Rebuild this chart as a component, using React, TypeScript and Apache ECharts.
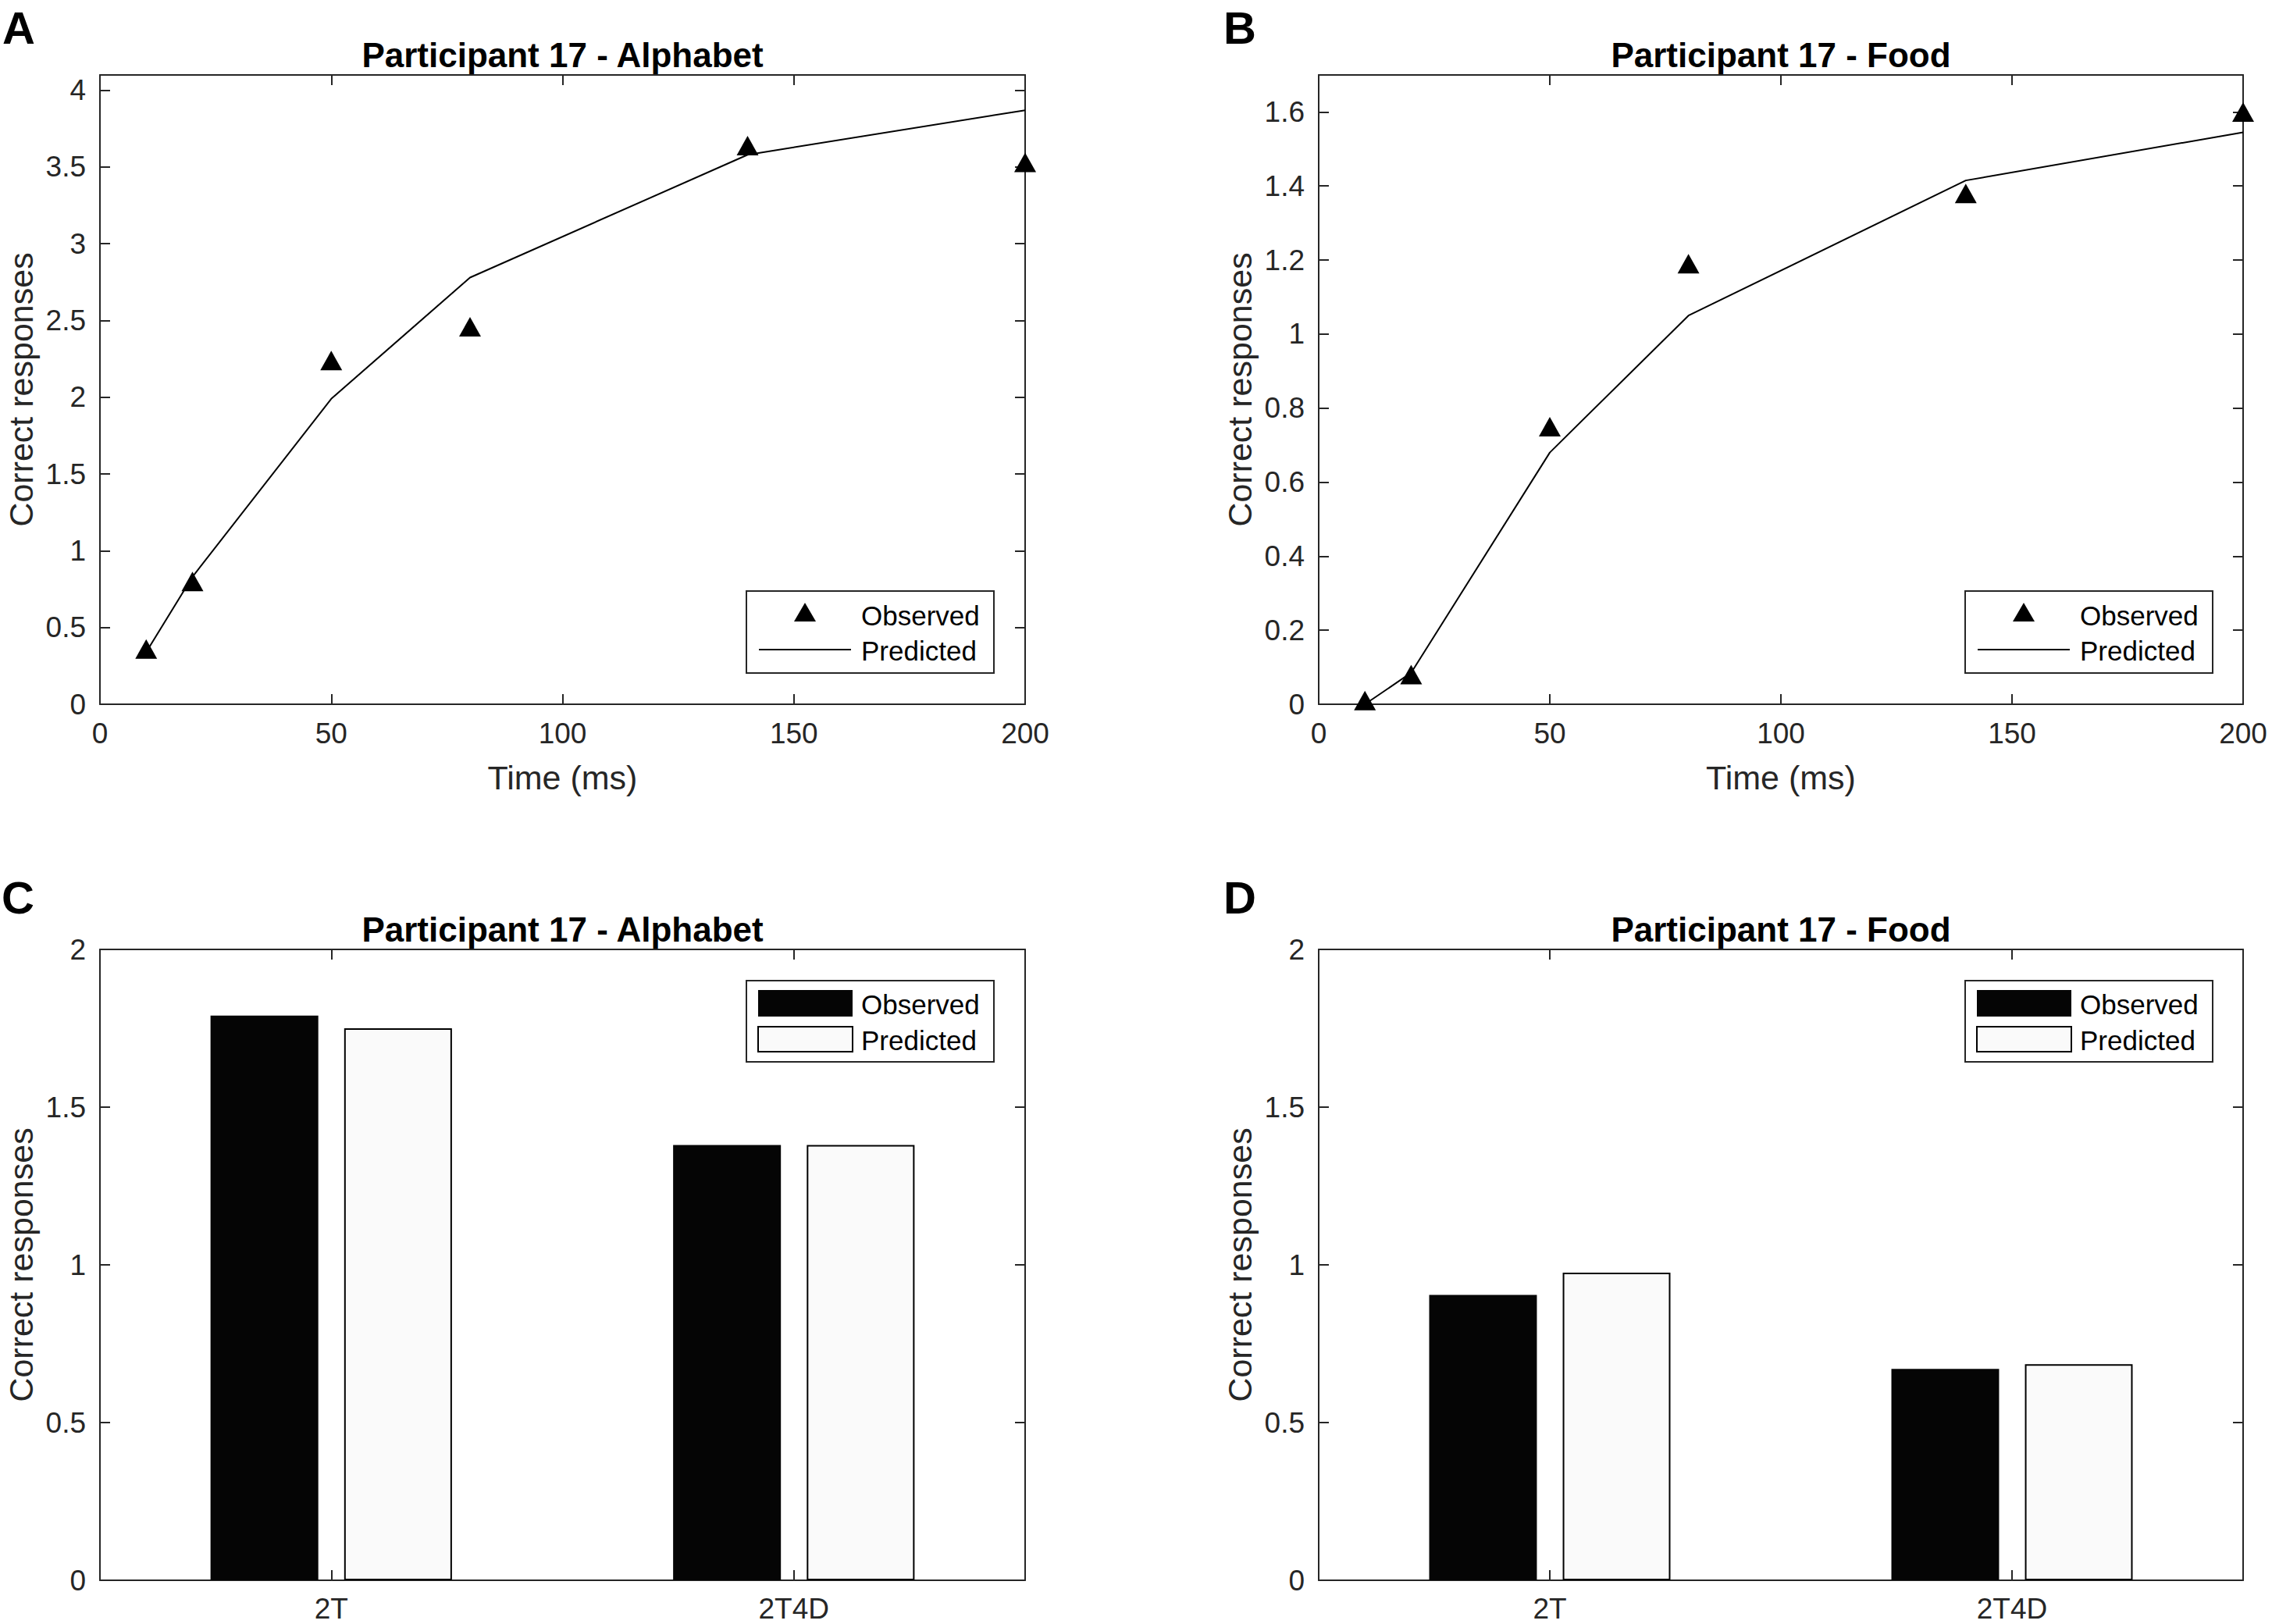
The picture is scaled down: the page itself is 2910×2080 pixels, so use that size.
import React, { useEffect, useRef } from "react";
import * as echarts from "echarts";

// ---------- data ----------
const timeMs = [10, 20, 50, 80, 140, 200];
const alphabetObserved = [0.36, 0.8, 2.24, 2.46, 3.64, 3.53];
const alphabetPredicted = [0.34, 0.83, 1.99, 2.78, 3.58, 3.87];
const foodObserved = [0.01, 0.08, 0.75, 1.19, 1.38, 1.6];
const foodPredicted = [0.0, 0.085, 0.68, 1.05, 1.415, 1.545];

const conditions = ["2T", "2T4D"];
const alphabetBarObserved = [1.79, 1.38];
const alphabetBarPredicted = [1.75, 1.38];
const foodBarObserved = [0.905, 0.67];
const foodBarPredicted = [0.975, 0.685];

const titles = [
  "Participant 17 - Alphabet",
  "Participant 17 - Food",
  "Participant 17 - Alphabet",
  "Participant 17 - Food",
];
const panelLetters = ["A", "B", "C", "D"];
const legendNames = ["Observed", "Predicted"];
const yAxisName = "Correct responses";
const xAxisName = "Time (ms)";
const timeRange = { min: 0, max: 200, interval: 50 };
const alphabetRange = { min: 0, max: 4.1, interval: 0.5 };
const foodRange = { min: 0, max: 1.7, interval: 0.2 };
const barRange = { min: 0, max: 2, interval: 0.5 };

// ---------- styling ----------
const FONT = "'Liberation Sans', Arial, Helvetica, sans-serif";
const AX = "#262626";
const grids = [
  { left: 128, top: 96, width: 1185, height: 806 },
  { left: 1689, top: 96, width: 1184, height: 806 },
  { left: 128, top: 1216, width: 1185, height: 808 },
  { left: 1689, top: 1216, width: 1184, height: 808 },
];

const axisLine = { show: true, onZero: false, lineStyle: { color: AX, width: 2 } };
const axisTick = { show: true, inside: true, length: 13, lineStyle: { color: AX, width: 2 } };
const tickLabel = { fontSize: 37, color: AX, fontFamily: FONT };
const nameStyle = { fontSize: 43, color: AX, fontFamily: FONT };

function valueX(gridIndex: number, position: "bottom" | "top", withLabels: boolean, withName: boolean) {
  return {
    type: "value",
    gridIndex,
    position,
    min: timeRange.min,
    max: timeRange.max,
    interval: timeRange.interval,
    axisLine,
    axisTick,
    splitLine: { show: false },
    axisLabel: { show: withLabels, margin: 19, ...tickLabel },
    name: withName ? xAxisName : "",
    nameLocation: "middle",
    nameGap: 72,
    nameTextStyle: nameStyle,
  };
}

function valueY(
  gridIndex: number,
  position: "left" | "right",
  range: { min: number; max: number; interval: number },
  withLabels: boolean,
  showMax: boolean
) {
  return {
    type: "value",
    gridIndex,
    position,
    min: range.min,
    max: range.max,
    interval: range.interval,
    axisLine,
    axisTick,
    splitLine: { show: false },
    axisLabel: { show: withLabels, margin: 18, showMaxLabel: showMax, ...tickLabel },
    name: withLabels ? yAxisName : "",
    nameLocation: "middle",
    nameGap: 80,
    nameTextStyle: nameStyle,
  };
}

function catX(gridIndex: number, position: "bottom" | "top", withLabels: boolean) {
  return {
    type: "category",
    gridIndex,
    position,
    data: conditions,
    axisLine,
    axisTick: { ...axisTick, alignWithLabel: true },
    splitLine: { show: false },
    axisLabel: { show: withLabels, margin: 18, ...tickLabel },
  };
}

function scatterLegend(left: number, top: number) {
  return [
    {
      type: "rect",
      z: 100,
      shape: { x: left, y: top, width: 317, height: 105 },
      style: { fill: "#fff", stroke: AX, lineWidth: 2 },
    },
    {
      type: "polygon",
      z: 101,
      shape: {
        points: [
          [left + 61, top + 39],
          [left + 89, top + 39],
          [left + 75, top + 15],
        ],
      },
      style: { fill: "#000" },
    },
    {
      type: "text",
      z: 101,
      x: left + 147,
      y: top + 31,
      style: { text: legendNames[0], fontSize: 35, fontFamily: FONT, fill: "#000", verticalAlign: "middle", align: "left" },
    },
    {
      type: "line",
      z: 101,
      shape: { x1: left + 16, y1: top + 75, x2: left + 134, y2: top + 75 },
      style: { stroke: "#000", lineWidth: 2 },
    },
    {
      type: "text",
      z: 101,
      x: left + 147,
      y: top + 76,
      style: { text: legendNames[1], fontSize: 35, fontFamily: FONT, fill: "#000", verticalAlign: "middle", align: "left" },
    },
  ];
}

function barLegend(left: number, top: number) {
  return [
    {
      type: "rect",
      z: 100,
      shape: { x: left, y: top, width: 317, height: 104 },
      style: { fill: "#fff", stroke: AX, lineWidth: 2 },
    },
    {
      type: "rect",
      z: 101,
      shape: { x: left + 15, y: top + 12, width: 121, height: 34 },
      style: { fill: "#050505" },
    },
    {
      type: "rect",
      z: 101,
      shape: { x: left + 15, y: top + 59, width: 121, height: 32 },
      style: { fill: "#fafafa", stroke: "#000", lineWidth: 2 },
    },
    {
      type: "text",
      z: 101,
      x: left + 147,
      y: top + 30,
      style: { text: legendNames[0], fontSize: 35, fontFamily: FONT, fill: "#000", verticalAlign: "middle", align: "left" },
    },
    {
      type: "text",
      z: 101,
      x: left + 147,
      y: top + 76,
      style: { text: legendNames[1], fontSize: 35, fontFamily: FONT, fill: "#000", verticalAlign: "middle", align: "left" },
    },
  ];
}

function pairs(xs: number[], ys: number[]) {
  return xs.map((x, i) => [x, ys[i]]);
}

export default function App() {
  const ref = useRef<HTMLDivElement>(null);

  useEffect(() => {
    if (!ref.current) return;
    const chart = echarts.init(ref.current, undefined, { renderer: "svg" });

    const titleTexts = grids.map((g, i) => ({
      type: "text",
      z: 100,
      x: g.left + g.width / 2,
      y: i < 2 ? 70 : 1190,
      style: {
        text: titles[i],
        fontSize: 44,
        fontWeight: "bold",
        fontFamily: FONT,
        fill: "#000",
        align: "center",
        verticalAlign: "middle",
      },
    }));

    const letterPos = [
      [3, 6],
      [1567, 6],
      [2, 1120],
      [1567, 1120],
    ];
    const letterTexts = panelLetters.map((L, i) => ({
      type: "text",
      z: 100,
      x: letterPos[i][0],
      y: letterPos[i][1],
      style: {
        text: L,
        fontSize: 58,
        fontWeight: "bold",
        fontFamily: FONT,
        fill: "#000",
        align: "left",
        verticalAlign: "top",
      },
    }));

    const option = {
      animation: false,
      backgroundColor: "#fff",
      textStyle: { fontFamily: FONT },
      grid: grids.map((g) => ({ ...g, containLabel: false, show: false })),
      xAxis: [
        valueX(0, "bottom", true, true),
        valueX(0, "top", false, false),
        valueX(1, "bottom", true, true),
        valueX(1, "top", false, false),
        catX(2, "bottom", true),
        catX(2, "top", false),
        catX(3, "bottom", true),
        catX(3, "top", false),
      ],
      yAxis: [
        valueY(0, "left", alphabetRange, true, false),
        valueY(0, "right", alphabetRange, false, false),
        valueY(1, "left", foodRange, true, false),
        valueY(1, "right", foodRange, false, false),
        valueY(2, "left", barRange, true, true),
        valueY(2, "right", barRange, false, true),
        valueY(3, "left", barRange, true, true),
        valueY(3, "right", barRange, false, true),
      ],
      series: [
        {
          name: "Predicted",
          type: "line",
          xAxisIndex: 0,
          yAxisIndex: 0,
          data: pairs(timeMs, alphabetPredicted),
          symbol: "none",
          clip: false,
          lineStyle: { color: "#000", width: 2 },
          z: 3,
        },
        {
          name: "Observed",
          type: "scatter",
          xAxisIndex: 0,
          yAxisIndex: 0,
          data: pairs(timeMs, alphabetObserved),
          symbol: "triangle",
          symbolSize: [28, 25],
          clip: false,
          itemStyle: { color: "#000", opacity: 1 },
          z: 4,
        },
        {
          name: "Predicted",
          type: "line",
          xAxisIndex: 2,
          yAxisIndex: 2,
          data: pairs(timeMs, foodPredicted),
          symbol: "none",
          clip: false,
          lineStyle: { color: "#000", width: 2 },
          z: 3,
        },
        {
          name: "Observed",
          type: "scatter",
          xAxisIndex: 2,
          yAxisIndex: 2,
          data: pairs(timeMs, foodObserved),
          symbol: "triangle",
          symbolSize: [28, 25],
          clip: false,
          itemStyle: { color: "#000", opacity: 1 },
          z: 4,
        },
        {
          name: "Observed",
          type: "bar",
          xAxisIndex: 4,
          yAxisIndex: 4,
          data: alphabetBarObserved,
          barWidth: "23.3%",
          barGap: "24%",
          itemStyle: { color: "#050505" },
        },
        {
          name: "Predicted",
          type: "bar",
          xAxisIndex: 4,
          yAxisIndex: 4,
          data: alphabetBarPredicted,
          barWidth: "23.3%",
          barGap: "24%",
          itemStyle: { color: "#fafafa", borderColor: "#000", borderWidth: 2 },
        },
        {
          name: "Observed",
          type: "bar",
          xAxisIndex: 6,
          yAxisIndex: 6,
          data: foodBarObserved,
          barWidth: "23.3%",
          barGap: "24%",
          itemStyle: { color: "#050505" },
        },
        {
          name: "Predicted",
          type: "bar",
          xAxisIndex: 6,
          yAxisIndex: 6,
          data: foodBarPredicted,
          barWidth: "23.3%",
          barGap: "24%",
          itemStyle: { color: "#fafafa", borderColor: "#000", borderWidth: 2 },
        },
      ],
      graphic: [
        ...titleTexts,
        ...letterTexts,
        ...scatterLegend(956, 757),
        ...scatterLegend(2517, 757),
        ...barLegend(956, 1256),
        ...barLegend(2517, 1256),
      ],
    };

    chart.setOption(option as any);
    return () => chart.dispose();
  }, []);

  return (
    <div
      ref={ref}
      style={{ position: "absolute", left: 0, top: 0, width: 2910, height: 2080, background: "#fff" }}
    />
  );
}
